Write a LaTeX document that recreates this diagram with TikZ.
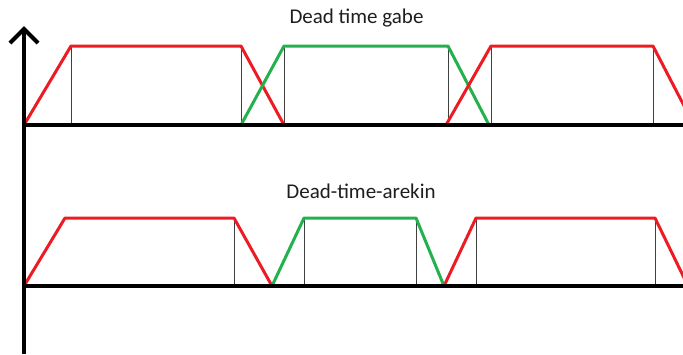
\documentclass[tikz,border=0pt]{standalone}
\usepackage{fontspec}
\setmainfont{Carlito}
\begin{document}
\begin{tikzpicture}[x=1pt,y=-1pt,
  axisline/.style={line width=4pt,black},
  guide/.style={line width=1pt,black!75},
  redsig/.style={line width=3pt,draw={rgb,255:red,237;green,28;blue,36},line join=round},
  greensig/.style={line width=3pt,draw={rgb,255:red,34;green,177;blue,76},line join=round},
  title/.style={anchor=base,inner sep=0pt,font=\fontsize{21}{24}\selectfont,text={rgb,255:red,30;green,30;blue,30}}]
\useasboundingbox (0,0) rectangle (683,354);
% titles
\node[title] (t1) at (356.5,23) {Dead time gabe};
\node[title] (t2) at (361,198) {Dead-time-arekin};
% top guides
\foreach \x in {71,241,284,448,491,653}
  \draw[guide] (\x,46) -- (\x,125);
% bottom guides
\foreach \x in {234,304,416,476,655}
  \draw[guide] (\x,218) -- (\x,286);
% top signals
\draw[redsig] (24,125) -- (71,46) -- (241,46) -- (284,125);
\draw[greensig] (241,125) -- (284,46) -- (448,46) -- (489,125);
\begin{scope}
\clip (0,0) rectangle (683,354);
\draw[redsig] (446,125) -- (491,46) -- (653,46) -- (694,125);
\draw[redsig] (444,286) -- (476,218) -- (655,218) -- (688,286);
\end{scope}
% bottom signals
\draw[redsig] (24,286) -- (65,218) -- (234,218) -- (272,286);
\draw[greensig] (272,286) -- (304,218) -- (416,218) -- (444,286);
% axes
\draw[axisline] (24,125) -- (683,125);
\draw[axisline] (24,286) -- (683,286);
\draw[axisline] (24,29) -- (24,354);
\draw[axisline,line join=miter] (10,43) -- (24,29) -- (38,43);
\end{tikzpicture}
\end{document}
